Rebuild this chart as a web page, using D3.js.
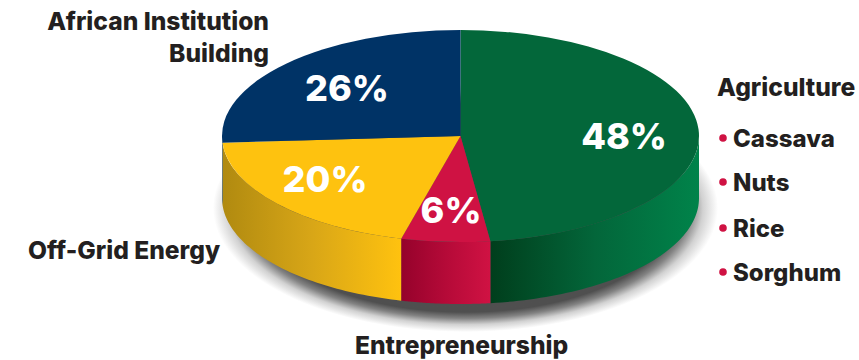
<!DOCTYPE html>
<html>
<head>
<meta charset="utf-8">
<script src="https://cdn.jsdelivr.net/npm/d3@7"></script>
<style>
  html, body { margin: 0; padding: 0; background: #fff; }
  svg { display: block; }
  text { font-family: Inter, Lato, sans-serif; font-weight: 800; }
</style>
</head>
<body>
<svg id="chart" width="859" height="360"></svg>
<script>
// Portfolio shares, clockwise from twelve o'clock
const sectors = ["Agriculture", "Entrepreneurship", "Off-Grid Energy", "African Institution Building"];
const shares = [48, 6, 20, 26];
const topColors = ["#03673a", "#cf1243", "#fec20f", "#003366"];
const wallStops = [
  ["#003e1c", "#03663a", "#00834a"],
  ["#95022b", "#b50a38", "#d01243"],
  ["#b08a10", "#d8a617", "#ffc20f"],
  ["#001f44", "#002a55", "#003366"]
];
const agricultureCrops = ["Cassava", "Nuts", "Rice", "Sorghum"];

const WIDTH = 859, HEIGHT = 360;
const cx = 460.5, cy = 136, rx = 238.5, ry = 106, depth = 62;

const svg = d3.select("#chart").attr("viewBox", [0, 0, WIDTH, HEIGHT]);
const defs = svg.append("defs");

// Soft-edged drop shadow, faded out toward the rim
const shadowGrad = defs.append("radialGradient").attr("id", "shadow");
[[0.84, 0.85], [0.89, 0.6], [0.94, 0.22], [1, 0]].forEach(([o, a]) => {
  shadowGrad.append("stop")
    .attr("offset", o).attr("stop-color", "#303030").attr("stop-opacity", a);
});

const arcs = d3.pie().sort(null).value(d => d)(shares);

const px = a => cx + rx * Math.sin(a);
const py = a => cy - ry * Math.cos(a);

svg.append("ellipse")
  .attr("cx", cx + 5).attr("cy", cy + depth + 10)
  .attr("rx", rx + 14).attr("ry", ry + 18)
  .attr("fill", "url(#shadow)");

// Side wall: only the part of each slice that faces the viewer
const wall = d3.area()
  .x(px).y0(py).y1(a => py(a) + depth);

arcs.forEach((d, i) => {
  const a0 = Math.max(d.startAngle, Math.PI / 2);
  const a1 = Math.min(d.endAngle, 3 * Math.PI / 2);
  if (a1 <= a0) return;
  const samples = d3.range(0, 61).map(k => a0 + (a1 - a0) * k / 60);
  const xs = d3.extent(samples, px);
  const grad = defs.append("linearGradient")
    .attr("id", `wall-${i}`)
    .attr("gradientUnits", "userSpaceOnUse")
    .attr("x1", xs[0]).attr("x2", xs[1]).attr("y1", 0).attr("y2", 0);
  wallStops[i].forEach((c, k) => grad.append("stop")
    .attr("offset", k / (wallStops[i].length - 1)).attr("stop-color", c));
  svg.append("path")
    .attr("d", wall(samples))
    .attr("fill", `url(#wall-${i})`);
});

// Top face: a flat pie squashed into an ellipse
const arcGen = d3.arc().innerRadius(0).outerRadius(rx);
svg.append("g")
  .attr("transform", `translate(${cx},${cy}) scale(1,${ry / rx})`)
  .selectAll("path")
  .data(arcs)
  .join("path")
  .attr("d", arcGen)
  .attr("fill", (d, i) => topColors[i]);

// Percentage labels on the slices
const pctSpots = [[624, 149], [451, 223], [325, 192], [347, 101]];
svg.append("g").selectAll("text")
  .data(shares)
  .join("text")
  .attr("x", (d, i) => pctSpots[i][0])
  .attr("y", (d, i) => pctSpots[i][1])
  .attr("text-anchor", "middle")
  .attr("fill", "#fff")
  .attr("font-size", 36)
  .text(d => `${d}%`);

// Sector names
const INK = "#231f20";
const nameText = (str, x, y, anchor) => svg.append("text")
  .attr("x", x).attr("y", y).attr("text-anchor", anchor)
  .attr("fill", INK).attr("font-size", 24.6).text(str);

nameText("African Institution", 269, 30, "end");
nameText("Building", 269, 62, "end");
nameText(sectors[0], 717, 96, "start");
nameText(sectors[2], 28, 259, "start");
nameText(sectors[1], 355, 354, "start");

// Crop list under Agriculture
const cropY = [147, 191, 237, 281];
const crops = svg.append("g").selectAll("g")
  .data(agricultureCrops)
  .join("g")
  .attr("transform", (d, i) => `translate(0,${cropY[i]})`);
crops.append("circle")
  .attr("cx", 723).attr("cy", -9).attr("r", 3.8).attr("fill", "#cf1243");
crops.append("text")
  .attr("x", 733).attr("fill", INK).attr("font-size", 24)
  .text(d => d);
</script>
</body>
</html>
